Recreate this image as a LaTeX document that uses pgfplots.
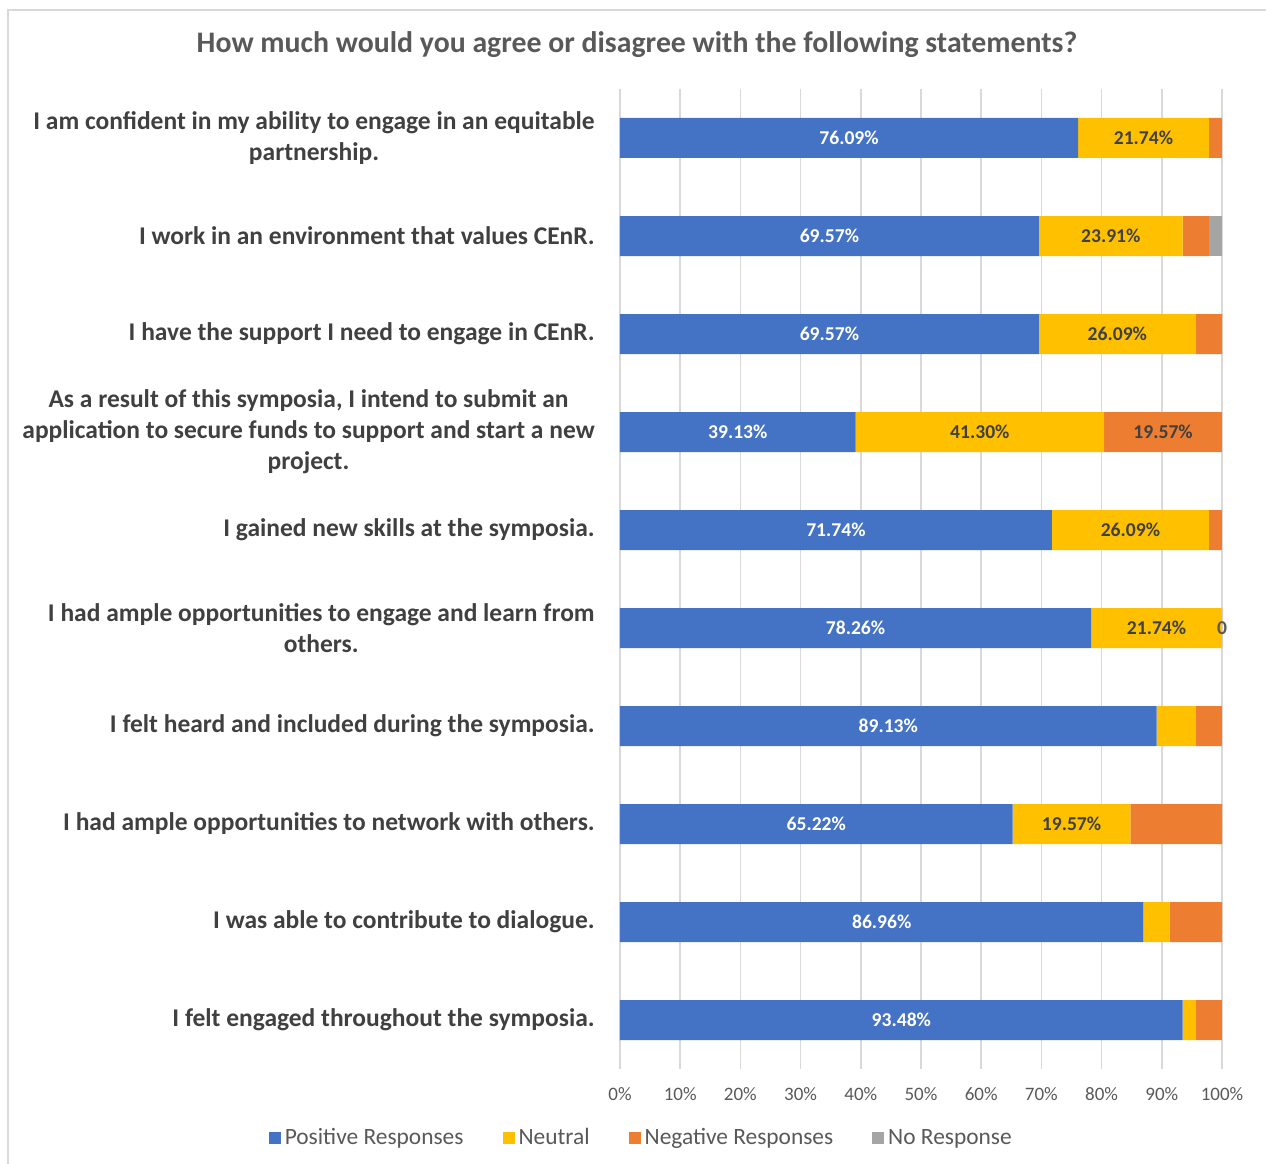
\documentclass[border=0pt]{standalone}
\usepackage{pgfplots}
\pgfplotsset{compat=1.18}
\usepackage{fontspec}
\setmainfont{Carlito}
\definecolor{cpos}{HTML}{4472C4}
\definecolor{cneu}{HTML}{FFC000}
\definecolor{cneg}{HTML}{ED7D31}
\definecolor{cnr}{HTML}{A5A5A5}
\definecolor{ctxt}{HTML}{404040}
\definecolor{ctick}{HTML}{595959}
\begin{document}
\begin{tikzpicture}
\path[use as bounding box] (0,0) rectangle (633pt,582pt);
\draw[color=black!15, line width=1pt] (4pt,0) -- (4pt,577pt) -- (634pt,577pt);
\node[font=\fontsize{14.9}{18}\selectfont\bfseries, text=ctick] at (318.5pt,559.5pt) {How much would you agree or disagree with the following statements?};
\begin{axis}[
  at={(310pt,47.5pt)}, anchor=south west,
  scale only axis, width=301pt, height=490pt,
  xbar stacked, bar width=20pt, clip=false,
  xmin=0, xmax=100, ymin=-0.5, ymax=9.5, y dir=reverse,
  axis line style={draw=none}, tick style={draw=none},
  xmajorgrids, major grid style={color=black!15, line width=0.8pt},
  xtick={0,10,...,100},
  xticklabels={0\%,10\%,20\%,30\%,40\%,50\%,60\%,70\%,80\%,90\%,100\%},
  xticklabel style={font=\fontsize{9.5}{11}\selectfont, text=ctick, anchor=center, yshift=-12.5pt},
  ytick={0,...,9},
  yticklabels={
    {I am confident in my ability to engage in an equitable\\partnership.},
    {I work in an environment that values CEnR.},
    {I have the support I need to engage in CEnR.},
    {As a result of this symposia, I intend to submit an\\application to secure funds to support and start a new\\project.},
    {I gained new skills at the symposia.},
    {I had ample opportunities to engage and learn from\\others.},
    {I felt heard and included during the symposia.},
    {I had ample opportunities to network with others.},
    {I was able to contribute to dialogue.},
    {I felt engaged throughout the symposia.}},
  yticklabel style={align=center, font=\fontsize{12.75}{15.5}\selectfont\bfseries, text=ctxt, anchor=east, inner sep=0pt, xshift=-12.5pt},
  legend columns=4,
  legend style={draw=none, at={(0.037,-0.0706)}, anchor=center,
    font=\fontsize{11.7}{13}\selectfont, text=ctick,
    /tikz/every even column/.append style={column sep=17.5pt}},
  legend image code/.code={\fill[#1] (0pt,-3pt) rectangle (6pt,3pt);},
  point meta=explicit symbolic,
]
\addplot[fill=cpos, draw=none, nodes near coords,
  every node near coord/.style={font=\fontsize{9.8}{11}\selectfont\bfseries, text=white, anchor=center}]
coordinates {
(76.09,0) [76.09\%]
(69.57,1) [69.57\%]
(69.57,2) [69.57\%]
(39.13,3) [39.13\%]
(71.74,4) [71.74\%]
(78.26,5) [78.26\%]
(89.13,6) [89.13\%]
(65.22,7) [65.22\%]
(86.96,8) [86.96\%]
(93.48,9) [93.48\%]
};
\addplot[fill=cneu, draw=none, nodes near coords,
  every node near coord/.style={font=\fontsize{9.8}{11}\selectfont\bfseries, text=ctxt, anchor=center}]
coordinates {
(21.74,0) [21.74\%]
(23.91,1) [23.91\%]
(26.09,2) [26.09\%]
(41.30,3) [41.30\%]
(26.09,4) [26.09\%]
(21.74,5) [21.74\%]
(6.52,6) []
(19.57,7) [19.57\%]
(4.35,8) []
(2.17,9) []
};
\addplot[fill=cneg, draw=none, nodes near coords,
  every node near coord/.style={font=\fontsize{9.8}{11}\selectfont\bfseries, text=ctxt, anchor=center}]
coordinates {
(2.17,0) []
(4.35,1) []
(4.35,2) []
(19.57,3) [19.57\%]
(2.17,4) []
(0.01,5) [\textcolor{ctick}{0}]
(4.35,6) []
(15.22,7) []
(8.70,8) []
(4.35,9) []
};
\addplot[fill=cnr, draw=none]
coordinates {
(0,0) []
(2.17,1) []
(0,2) []
(0,3) []
(0,4) []
(0,5) []
(0,6) []
(0,7) []
(0,8) []
(0,9) []
};
\legend{Positive Responses, Neutral, Negative Responses, No Response}
\end{axis}
\end{tikzpicture}
\end{document}
